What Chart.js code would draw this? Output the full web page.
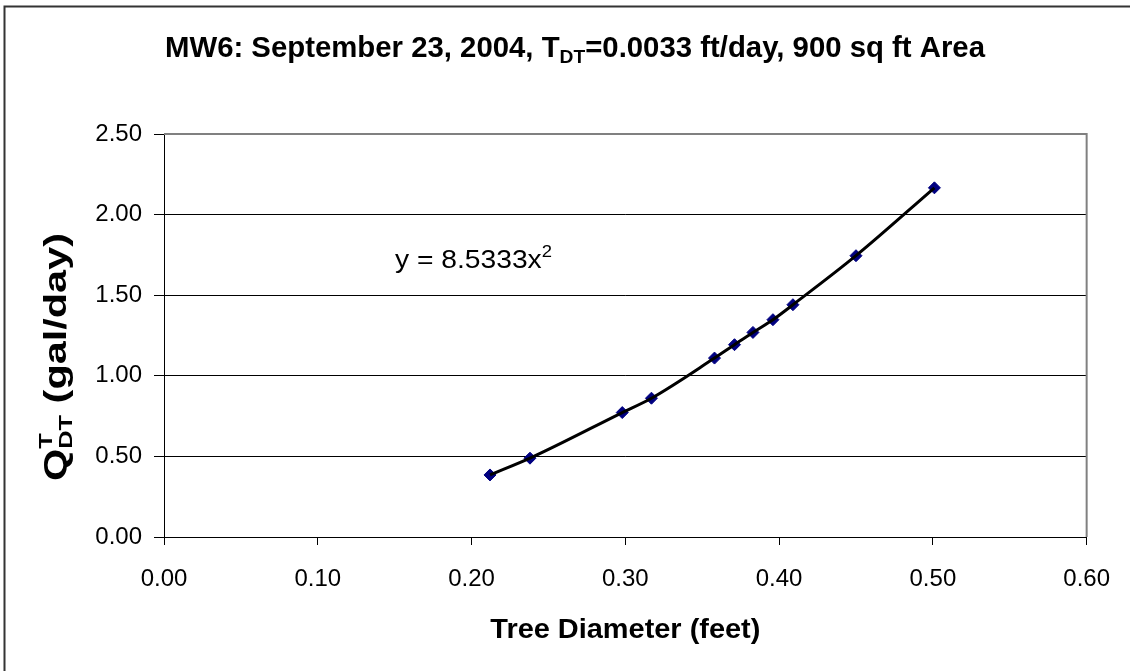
<!DOCTYPE html>
<html><head><meta charset="utf-8">
<script src="https://cdn.jsdelivr.net/npm/chart.js@4"></script>
<style>html,body{margin:0;padding:0;background:#fff;}#wrap{width:1130px;height:671px;}</style>
</head><body><div id="wrap"><canvas id="c" width="1130" height="671"></canvas></div>
<script>
// ---- data ----
const treeDiameter = [0.212, 0.238, 0.298, 0.317, 0.358, 0.371, 0.383, 0.396, 0.409, 0.450, 0.501];
const flowQ        = [0.385, 0.489, 0.772, 0.861, 1.110, 1.193, 1.269, 1.348, 1.441, 1.745, 2.166];
const xTickValues  = [0.00, 0.10, 0.20, 0.30, 0.40, 0.50, 0.60];
const yTickValues  = [0.00, 0.50, 1.00, 1.50, 2.00, 2.50];
const titleParts   = ["MW6: September 23, 2004, T", "DT", "=0.0033 ft/day, 900 sq ft Area"];
const yTitleParts  = ["Q", "T", "DT", " (gal/day)"];
const xTitleText   = "Tree Diameter (feet)";
const equationParts = ["y = 8.5333x", "2"];

const FONT = '"Liberation Sans", Arial, sans-serif';
const points = treeDiameter.map((x, i) => ({x: x, y: flowQ[i]}));

// draw a run of segments [{t, font, dy, stack}] centred (or left) with a target width
function drawRun(ctx, segs, x0, y0, align, targetW) {
  let natural = 0;
  const widths = segs.map(s => { ctx.font = s.font; return ctx.measureText(s.t).width; });
  for (let i = 0; i < segs.length; i++) {
    if (segs[i].stack) { natural += Math.max(widths[i], widths[i + 1]); i++; }
    else natural += widths[i];
  }
  const k = targetW ? targetW / natural : 1;
  ctx.save();
  ctx.translate(x0, y0);
  ctx.scale(k, 1);
  ctx.textAlign = 'left';
  ctx.textBaseline = 'alphabetic';
  let x = align === 'center' ? -natural / 2 : 0;
  for (let i = 0; i < segs.length; i++) {
    const s = segs[i];
    ctx.font = s.font; ctx.fillText(s.t, x, s.dy || 0);
    if (s.stack) {
      const n = segs[i + 1];
      ctx.font = n.font; ctx.fillText(n.t, x, n.dy || 0);
      x += Math.max(widths[i], widths[i + 1]); i++;
    } else x += widths[i];
  }
  ctx.restore();
}

const textPlugin = {
  id: 'texts',
  afterDraw(chart) {
    const ctx = chart.ctx;
    const ca = chart.chartArea;
    ctx.save();
    // outer frame (top and left visible)
    ctx.strokeStyle = '#333';
    ctx.lineWidth = 2;
    ctx.beginPath();
    ctx.moveTo(4.5, 672); ctx.lineTo(4.5, 6.5); ctx.lineTo(1131, 6.5);
    ctx.stroke();
    // plot area border (right, top) gray
    ctx.strokeStyle = '#808080';
    ctx.lineWidth = 2;
    ctx.beginPath();
    ctx.moveTo(ca.left, ca.top); ctx.lineTo(ca.right, ca.top); ctx.lineTo(ca.right, ca.bottom);
    ctx.stroke();

    ctx.fillStyle = '#000';
    const small = 'bold 19px ' + FONT;
    // Title
    drawRun(ctx, [
      {t: titleParts[0], font: 'bold 29px ' + FONT},
      {t: titleParts[1], font: small, dy: 6},
      {t: titleParts[2], font: 'bold 29px ' + FONT}
    ], 575, 57, 'center', 820);

    // X axis title
    drawRun(ctx, [{t: xTitleText, font: 'bold 28px ' + FONT}],
      (ca.left + ca.right) / 2, 638, 'center', 270);

    // Y axis title (rotated)
    ctx.save();
    ctx.translate(66, 357);
    ctx.rotate(-Math.PI / 2);
    drawRun(ctx, [
      {t: yTitleParts[0], font: 'bold 31px ' + FONT},
      {t: yTitleParts[1], font: small, dy: -14, stack: true},
      {t: yTitleParts[2], font: small, dy: 6},
      {t: yTitleParts[3], font: 'bold 31px ' + FONT}
    ], 0, 0, 'center', 248);
    ctx.restore();

    // trendline equation
    drawRun(ctx, [
      {t: equationParts[0], font: '26px ' + FONT},
      {t: equationParts[1], font: '17px ' + FONT, dy: -11}
    ], 395, 268, 'left', 157);
    ctx.restore();
  }
};

new Chart(document.getElementById('c'), {
  type: 'scatter',
  data: {
    datasets: [
      { label: 'trend', data: points, showLine: true, borderColor: '#000', borderWidth: 3,
        pointRadius: 0, cubicInterpolationMode: 'monotone', fill: false },
      { label: 'data', data: points, pointStyle: 'rectRot', pointRadius: 6,
        backgroundColor: '#000080', borderColor: '#000080', borderWidth: 1, showLine: false }
    ]
  },
  options: {
    responsive: false, animation: false, devicePixelRatio: 1,
    layout: { padding: { top: 134, right: 42, left: 0, bottom: 0 } },
    plugins: { legend: { display: false }, tooltip: { enabled: false }, title: { display: false } },
    scales: {
      x: {
        type: 'linear', min: 0, max: 0.6,
        afterBuildTicks: s => { s.ticks = xTickValues.map(v => ({value: v})); },
        afterFit: s => { s.height = 134; },
        ticks: { callback: v => Number(v).toFixed(2), color: '#000', font: { size: 24, family: FONT },
                 padding: 20, maxRotation: 0, autoSkip: false },
        grid: { drawOnChartArea: false, drawTicks: true, tickLength: 8, tickColor: '#000', tickWidth: 1 },
        border: { display: true, color: '#000', width: 1 }
      },
      y: {
        type: 'linear', min: 0, max: 2.5,
        afterBuildTicks: s => { s.ticks = yTickValues.map(v => ({value: v})); },
        afterFit: s => { s.width = 164; },
        ticks: { callback: v => Number(v).toFixed(2), color: '#000', font: { size: 24, family: FONT },
                 padding: 12 },
        grid: { color: '#000', lineWidth: 1, drawTicks: true, tickLength: 10, tickColor: '#000' },
        border: { display: true, color: '#000', width: 1 }
      }
    }
  },
  plugins: [textPlugin]
});
</script></body></html>
